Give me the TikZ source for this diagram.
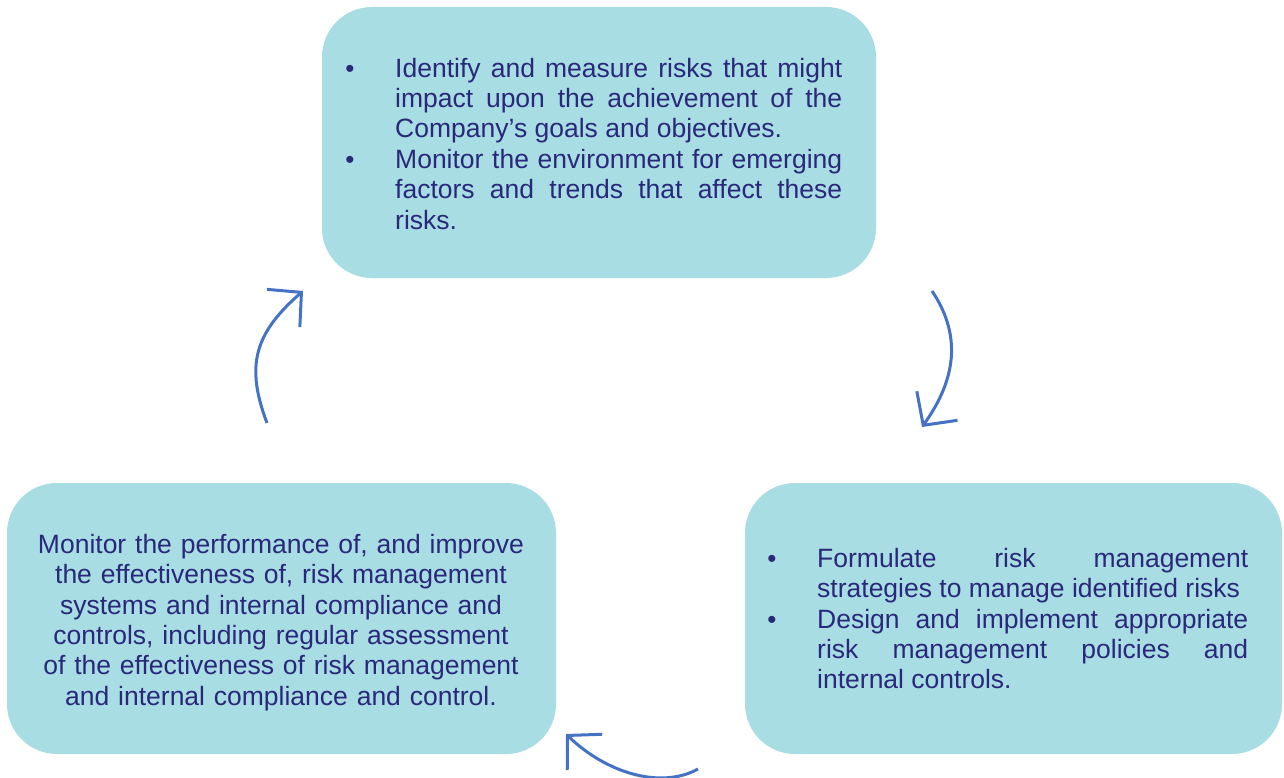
\documentclass[tikz,border=0pt]{standalone}
\usepackage{fontspec}
\setmainfont{Liberation Sans}
\usetikzlibrary{arrows.meta}
\definecolor{boxfill}{RGB}{168,221,228}
\definecolor{txt}{RGB}{42,40,122}
\definecolor{arr}{RGB}{68,114,196}
\newcommand{\jline}[1]{{\spaceskip=0pt\xspaceskip=0pt\makebox[\hsize][s]{#1}}}
\begin{document}
\begin{tikzpicture}[x=1pt,y=-1pt,
  box/.style={fill=boxfill,draw=none,rounded corners=50pt,inner sep=0pt},
  body/.style={text=txt,inner sep=0pt,font=\fontsize{26.5}{30.35}\selectfont},
  bul/.style={text=txt,inner sep=0pt,font=\fontsize{26}{30}\selectfont,anchor=base},
  cyc/.style={draw=arr,line width=3pt,-{Straight Barb[length=24pt,width=50pt,line width=3pt]}}]
\useasboundingbox (0,0) rectangle (1284,778);
% boxes
\node[box,minimum width=554pt,minimum height=271pt] (top) at (599,142.5) {};
\node[box,minimum width=549pt,minimum height=271pt] (left) at (281.5,618.5) {};
\node[box,minimum width=537pt,minimum height=271pt] (right) at (1013.5,618.5) {};
% top text
\node[bul] (tb1) at (350,77.3) {•};
\node[bul] (tb2) at (350,168.3) {•};
\node[body,text width=447pt,align=justify,anchor=base west] (tt) at (395,77.3)
 {\jline{Identify and measure risks that might}\\
  \jline{impact upon the achievement of the}\\
  Company’s goals and objectives.\\
  \jline{Monitor the environment for emerging}\\
  \jline{factors and trends that affect these}\\
  risks.};
% right text
\node[bul] (rb1) at (772,567.5) {•};
\node[bul] (rb2) at (772,628.5) {•};
\node[body,text width=431pt,align=justify,anchor=base west] (rt) at (817,567.5)
 {\jline{Formulate risk management}\\
  strategies to manage identified risks\\
  \jline{Design and implement appropriate}\\
  \jline{risk management policies and}\\
  internal controls.};
% left text
\node[body,text width=540pt,align=center,anchor=base] (lt) at (281,553.5)
 {Monitor the performance of, and improve\\
  the effectiveness of, risk management\\
  systems and internal compliance and\\
  controls, including regular assessment\\
  of the effectiveness of risk management\\
  and internal compliance and control.};
% cycle arrows
\coordinate (a1s) at (267,423);
\coordinate (a1e) at (303,291);
\coordinate (a2s) at (932,291);
\coordinate (a2e) at (922,427);
\coordinate (a3s) at (698,769);
\coordinate (a3e) at (566,734);
\draw[cyc] (a1s) .. controls (245,365) and (255,333) .. (a1e);
\draw[cyc] (a2s) .. controls (965,340) and (952,385) .. (a2e);
\draw[cyc] (a3s) .. controls (660,790) and (605,772) .. (a3e);
\end{tikzpicture}
\end{document}
